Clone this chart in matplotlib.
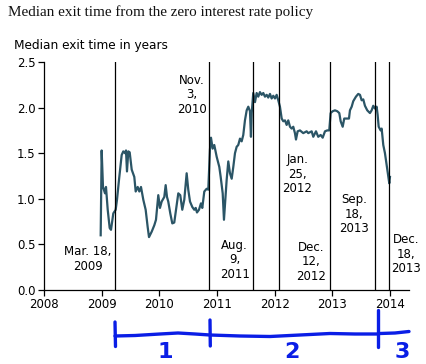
import matplotlib
matplotlib.use("Agg")
import matplotlib.pyplot as plt
from matplotlib.lines import Line2D
import numpy as np

# ---- data (decimal years, median exit time in years) ----
years = [2008.983, 2009.000, 2009.023, 2009.058, 2009.075, 2009.105, 2009.139, 2009.162,
         2009.202, 2009.243, 2009.266, 2009.301, 2009.347, 2009.375, 2009.405, 2009.422,
         2009.439, 2009.462, 2009.486, 2009.521, 2009.566, 2009.590, 2009.625, 2009.653,
         2009.682, 2009.722, 2009.763, 2009.798, 2009.821, 2009.868, 2009.913, 2009.942,
         2009.982, 2010.011, 2010.041, 2010.086, 2010.110, 2010.133, 2010.155, 2010.190,
         2010.225, 2010.259, 2010.301, 2010.329, 2010.363, 2010.398, 2010.433, 2010.474,
         2010.502, 2010.532, 2010.572, 2010.606, 2010.631, 2010.653, 2010.688, 2010.722,
         2010.745, 2010.780, 2010.821, 2010.849, 2010.878, 2010.896, 2010.925, 2010.953,
         2010.995, 2011.040, 2011.064, 2011.099, 2011.121, 2011.168, 2011.196, 2011.225,
         2011.255, 2011.283, 2011.312, 2011.341, 2011.369, 2011.399, 2011.428, 2011.456,
         2011.485, 2011.515, 2011.543, 2011.572, 2011.589, 2011.602, 2011.629, 2011.659,
         2011.688, 2011.716, 2011.745, 2011.775, 2011.803, 2011.832, 2011.862, 2011.889,
         2011.919, 2011.948, 2011.976, 2012.006, 2012.035, 2012.063, 2012.092, 2012.122,
         2012.150, 2012.179, 2012.208, 2012.236, 2012.266, 2012.295, 2012.323, 2012.352,
         2012.370, 2012.399, 2012.439, 2012.496, 2012.526, 2012.555, 2012.583, 2012.642,
         2012.670, 2012.717, 2012.756, 2012.798, 2012.833, 2012.873, 2012.912, 2012.947,
         2012.971, 2013.006, 2013.046, 2013.086, 2013.121, 2013.145, 2013.180, 2013.207,
         2013.249, 2013.289, 2013.306, 2013.336, 2013.363, 2013.410, 2013.450, 2013.480,
         2013.509, 2013.537, 2013.566, 2013.606, 2013.653, 2013.682, 2013.710, 2013.740,
         2013.769, 2013.786, 2013.804, 2013.838, 2013.856, 2013.884, 2013.913, 2013.942,
         2013.970, 2013.988, 2014.000]
exit_time = [0.60, 1.53, 1.13, 1.06, 1.13, 0.88, 0.68, 0.66,
             0.84, 0.88, 0.99, 1.21, 1.48, 1.52, 1.50, 1.53,
             1.30, 1.52, 1.51, 1.32, 1.24, 1.08, 1.13, 1.08,
             1.13, 0.99, 0.88, 0.69, 0.58, 0.64, 0.71, 0.77,
             1.04, 0.90, 0.97, 1.02, 1.15, 1.02, 0.97, 0.84,
             0.73, 0.74, 0.93, 1.06, 1.04, 0.88, 0.99, 1.28,
             1.10, 0.97, 0.91, 0.88, 0.90, 0.85, 0.88, 0.95,
             0.90, 1.08, 1.11, 1.10, 1.54, 1.67, 1.55, 1.59,
             1.46, 1.35, 1.24, 1.06, 0.77, 1.21, 1.41, 1.28,
             1.22, 1.35, 1.50, 1.57, 1.59, 1.66, 1.63, 1.70,
             1.86, 1.97, 2.01, 1.96, 1.68, 1.94, 2.16, 2.06,
             2.16, 2.12, 2.17, 2.14, 2.16, 2.12, 2.14, 2.11,
             2.15, 2.10, 2.13, 2.10, 2.14, 2.08, 2.01, 1.88,
             1.85, 1.86, 1.81, 1.86, 1.79, 1.77, 1.79, 1.72,
             1.65, 1.74, 1.75, 1.72, 1.73, 1.74, 1.72, 1.74,
             1.68, 1.74, 1.68, 1.70, 1.67, 1.74, 1.75, 1.75,
             1.94, 1.96, 1.97, 1.96, 1.94, 1.85, 1.79, 1.88,
             1.88, 1.88, 1.97, 2.01, 2.07, 2.12, 2.15, 2.14,
             2.08, 2.09, 2.02, 1.97, 1.94, 1.97, 2.02, 1.99,
             2.01, 1.92, 1.79, 1.75, 1.77, 1.59, 1.50, 1.37,
             1.24, 1.17, 1.24]

event_years = [2009.236, 2010.865, 2011.629, 2012.073, 2012.962, 2013.734, 2013.987]
event_labels = ["Mar. 18,\n2009", "Nov.\n3,\n2010", "Aug.\n9,\n2011", "Jan.\n25,\n2012",
                "Dec.\n12,\n2012", "Sep.\n18,\n2013", "Dec.\n18,\n2013"]
x_ticks = [2008, 2009, 2010, 2011, 2012, 2013, 2014]
y_ticks = [0.0, 0.5, 1.0, 1.5, 2.0, 2.5]
period_labels = ["1", "2", "3"]

W, H = 426, 364
fig = plt.figure(figsize=(W / 100, H / 100), dpi=100)
ax = fig.add_axes([44 / W, 1 - 290 / H, (409 - 44) / W, (290 - 62) / H])

ax.plot(years, exit_time, color="#2b5566", lw=1.6, solid_joinstyle="round")
for ey in event_years:
    ax.plot([ey, ey], [0, 2.5], color="black", lw=0.9)

# label positions (data coords) for event labels
label_pos = [(2008.758, 0.34), (2010.566, 2.14), (2011.307, 0.33), (2012.396, 1.27),
             (2012.630, 0.31), (2013.375, 0.83), (2014.277, 0.39)]
for (lx, ly), txt in zip(label_pos, event_labels):
    ax.text(lx, ly, txt, ha="center", va="center", fontsize=8.5, family="DejaVu Sans",
            linespacing=1.15, clip_on=False)

ax.set_xlim(2008, 2014.33)
ax.set_ylim(0, 2.5)
ax.set_xticks(x_ticks)
ax.set_xticklabels([str(t) for t in x_ticks])
ax.set_yticks(y_ticks)
ax.set_yticklabels([f"{t:.1f}" for t in y_ticks])
for s in ["top", "right"]:
    ax.spines[s].set_visible(False)
for s in ["left", "bottom"]:
    ax.spines[s].set_linewidth(0.9)
ax.tick_params(direction="out", length=4, width=0.9, labelsize=8.5, pad=2)

fig.text(8 / W, 1 - 12 / H, "Median exit time from the zero interest rate policy",
         family="Liberation Serif", fontsize=10.9, ha="left", va="center", color="#111111")
fig.text(14 / W, 1 - 46 / H, "Median exit time in years", family="DejaVu Sans",
         fontsize=8.7, ha="left", va="center")

# hand-drawn period annotation (pixel coordinates from top-left)
blue = "#0a1ee6"
def fx(px):
    return px / W
def fy(py):
    return 1 - py / H
def hline(xs, ys, lw=2.4):
    fig.add_artist(Line2D([fx(x) for x in xs], [fy(y) for y in ys], color=blue, lw=lw,
                          solid_capstyle="round", solid_joinstyle="round"))

hline([115, 135, 160, 178, 195, 210], [336, 335.5, 334, 333, 334, 335])
hline([210, 240, 270, 300, 330, 355, 378], [335, 336, 336.5, 335, 333.5, 334, 334])
hline([380, 395, 409], [333.5, 333, 331.5])
hline([115, 115.5], [322, 346.5])
hline([210, 210.3], [320, 346])
hline([378, 378], [310, 347])
for px, txt in zip([165, 292, 402], period_labels):
    fig.text(fx(px), fy(352), txt, color=blue, fontsize=16, ha="center", va="center",
             family="DejaVu Sans", fontweight="bold")

fig.savefig("out.png", dpi=100)
